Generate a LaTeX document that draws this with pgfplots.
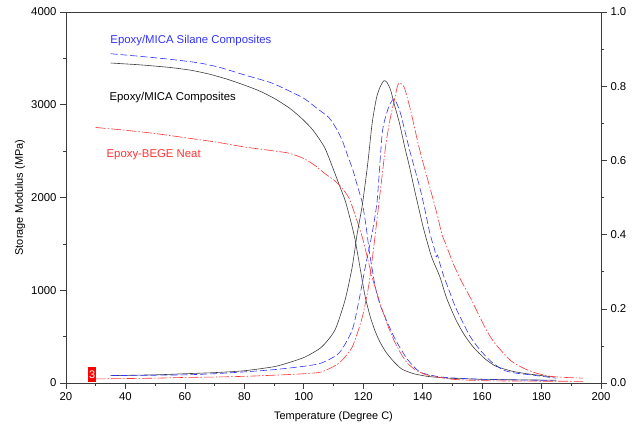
\documentclass[border=0pt]{standalone}
\usepackage{fontspec}
\setmainfont{Liberation Sans}
\usepackage{pgfplots}
\pgfplotsset{compat=1.18}

\definecolor{cblack}{RGB}{60,60,60}
\definecolor{cblue}{RGB}{50,50,255}
\definecolor{cred}{RGB}{255,50,50}

% storage modulus (MPa)
\pgfplotstableread{
T E
35 3450
45 3430
55 3402
62 3372
68 3332
74 3278
80 3212
85 3150
90 3070
95 2968
99 2862
103 2730
107 2540
110 2300
112 2130
114 1960
116 1720
117.3 1540
119 1230
120.7 925
122.5 700
124 560
125.5 450
127.5 340
130 240
133 150
137 100
142 70
150 50
160 40
170 35
185 30
}\modblack
\pgfplotstableread{
T E
35 3550
45 3522
55 3490
65 3450
72 3400
80 3322
89 3237
95 3150
100 3070
104.5 2960
108.5 2860
111 2740
113 2610
115 2430
116.5 2300
118 2130
119.7 1940
121 1680
122 1430
123 1230
124.1 1030
125.5 860
127.5 700
130 520
132.2 390
135 250
139 120
145 70
150 55
160 40
170 33
184 28
}\modblue
\pgfplotstableread{
T E
30 2755
40 2725
50 2690
60 2645
70 2600
80 2545
90 2502
95 2478
100 2420
104 2340
107 2260
109 2215
111 2165
113 2095
115.3 1990
117.5 1790
119.7 1570
121.5 1340
123 1140
124.7 960
126.4 790
128.5 600
130.8 430
133 300
135 210
137.6 140
141 90
145 65
150 40
160 25
175 20
194 18
}\modred

% tan delta
\pgfplotstableread{
T D
35 0.020
50 0.022
60 0.025
70 0.028
80 0.033
90 0.044
95 0.055
100.4 0.070
106 0.097
110.5 0.143
113.9 0.224
116.3 0.313
118 0.404
119.7 0.480
121.5 0.590
123 0.700
124.5 0.770
125.8 0.800
127 0.815
128 0.810
129.2 0.790
130.5 0.750
132.2 0.700
134 0.635
135.6 0.582
137 0.530
139 0.460
140.5 0.410
143 0.340
145.8 0.286
148 0.230
151.2 0.170
154 0.130
157 0.097
161 0.065
164.7 0.045
170 0.032
175 0.025
180 0.020
184 0.016
}\tanblack
\pgfplotstableread{
T D
35 0.020
50 0.021
60 0.022
70 0.025
80 0.030
90 0.036
100 0.045
106 0.054
111.9 0.081
116.3 0.143
118.6 0.224
120.7 0.313
123 0.404
124.7 0.493
126.4 0.674
128 0.730
129.2 0.755
130.5 0.765
132.5 0.728
135.6 0.628
139 0.528
141 0.458
142.4 0.404
144 0.360
144.5 0.340
145 0.345
145.5 0.330
147 0.290
149.2 0.243
151 0.205
153.6 0.162
156 0.125
159.3 0.089
163 0.058
167.1 0.035
171 0.027
176.3 0.022
181 0.017
185 0.013
}\tanblue
\pgfplotstableread{
T D
30 0.011
40 0.012
50 0.013
60 0.015
70 0.016
80 0.018
90 0.021
100 0.025
106 0.030
111.9 0.054
116.3 0.097
119.7 0.178
122 0.270
124.1 0.404
125.5 0.500
127.5 0.636
129 0.710
130.5 0.763
131.5 0.800
132.2 0.809
133 0.805
133.9 0.795
135.9 0.736
139 0.628
142.4 0.528
145 0.450
146.5 0.400
148 0.370
150.2 0.323
153 0.275
155.9 0.232
158.5 0.190
161.4 0.143
164 0.110
167.1 0.081
170 0.058
173.9 0.040
178 0.027
183 0.018
188 0.015
194 0.013
}\tanred

\pgfplotsset{
  base/.style={
    scale only axis,
    width=535bp, height=371bp,
    xmin=20, xmax=200,
    tick align=outside,
    major tick length=6bp,
    minor tick length=3bp,
    minor tick num=1,
    axis line style={cblack, line width=0.6pt},
    every tick/.style={cblack, line width=0.6pt},
    tick label style={font=\fontsize{11.4}{13}\selectfont},
    /pgf/number format/assume math mode=true,
    /pgf/number format/1000 sep={},
  },
  blk/.style={cblack, line width=0.6pt, smooth, tension=0.4},
  blu/.style={cblue, line width=0.6pt, smooth, tension=0.4, dash pattern=on 7pt off 3pt},
  rd/.style={cred, line width=0.6pt, smooth, tension=0.4, dash pattern=on 10pt off 2pt on 1.5pt off 2pt},
}

\begin{document}
\begin{tikzpicture}
\begin{axis}[
  base,
  name=ax,
  ymin=0, ymax=4000,
  xtick={20,40,...,200},
  ytick={0,1000,...,4000},
  xtick pos=bottom, ytick pos=left,
  xlabel={Temperature (Degree C)},
  ylabel={Storage Modulus (MPa)},
  label style={font=\fontsize{11}{13}\selectfont},
  xlabel style={at={(axis description cs:0.5,-0.0916)}, anchor=center},
  ylabel style={at={(axis description cs:-0.086,0.5)}, anchor=center},
]
\addplot[blk] table[x=T, y=E] {\modblack};
\addplot[blu] table[x=T, y=E] {\modblue};
\addplot[rd] table[x=T, y=E] {\modred};
\node[anchor=west, inner sep=0pt, text=cblue, font=\fontsize{11.4}{13}\selectfont] at (axis cs:34.9,3688) {Epoxy/MICA Silane Composites};
\node[anchor=west, inner sep=0pt, text=black, font=\fontsize{11.4}{13}\selectfont] at (axis cs:34.6,3075) {Epoxy/MICA Composites};
\node[anchor=west, inner sep=0pt, text=cred, font=\fontsize{11.4}{13}\selectfont] at (axis cs:33.6,2462) {Epoxy-BEGE Neat};
\node[fill=red, text=white, inner sep=0pt, minimum width=8bp, minimum height=15bp, font=\fontsize{11}{11}\selectfont] at (axis cs:28.8,91) {3};
\end{axis}
\begin{axis}[
  base,
  ymin=0, ymax=1,
  axis x line=none,
  axis y line*=right,
  ytick={0,0.2,...,1.0},
  yticklabel style={/pgf/number format/.cd, fixed, fixed zerofill, precision=1},
]
\addplot[blk] table[x=T, y=D] {\tanblack};
\addplot[blu] table[x=T, y=D] {\tanblue};
\addplot[rd] table[x=T, y=D] {\tanred};
\end{axis}
\pgfresetboundingbox
\path[use as bounding box] ([shift={(-66bp,-45bp)}]ax.south west) rectangle ([shift={(42bp,12bp)}]ax.north east);
\end{tikzpicture}
\end{document}
